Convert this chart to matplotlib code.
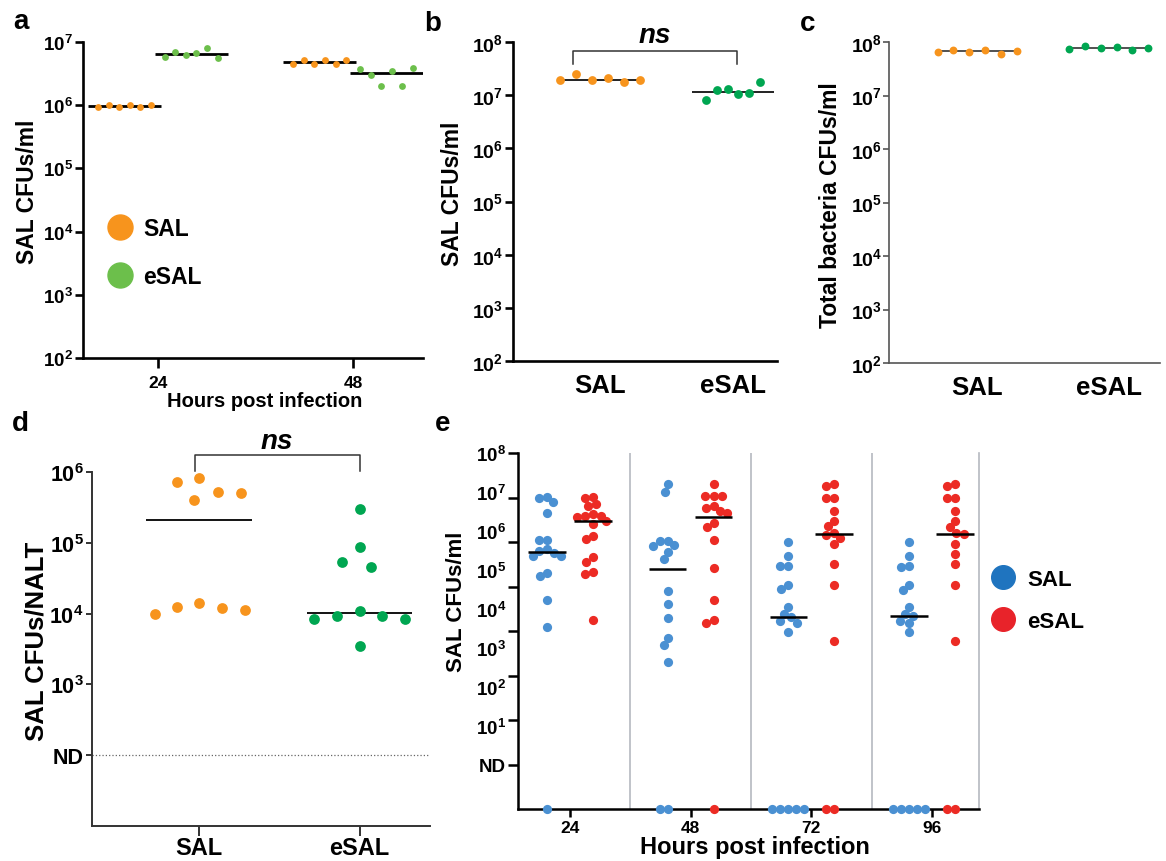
import numpy as np
import matplotlib
matplotlib.use('Agg')
import matplotlib.pyplot as plt
from matplotlib.lines import Line2D
from matplotlib.ticker import NullLocator, NullFormatter

plt.rcParams['font.family'] = ['Liberation Sans', 'DejaVu Sans']
plt.rcParams['font.weight'] = 'bold'
plt.rcParams['axes.labelweight'] = 'bold'
plt.rcParams['mathtext.fontset'] = 'custom'
plt.rcParams['mathtext.rm'] = 'Liberation Sans:bold'
plt.rcParams['mathtext.bf'] = 'Liberation Sans:bold'
plt.rcParams['mathtext.default'] = 'bf'

W, H = 1166, 862

# ---- data: CFU counts (0 = not detected) ----
groups = ['SAL', 'eSAL']

a_hours = [24, 48]
a_sal = [[0.95e6, 1.0e6, 0.95e6, 1.0e6, 0.95e6, 1.0e6],
         [4.5e6, 5.2e6, 4.5e6, 5.2e6, 4.5e6, 5.2e6]]
a_esal = [[5.8e6, 6.9e6, 6.2e6, 6.7e6, 8.0e6, 5.6e6],
          [3.7e6, 3.0e6, 2.0e6, 3.5e6, 2.0e6, 3.9e6]]

b_sal = [1.9e7, 2.55e7, 1.9e7, 2.07e7, 1.8e7, 1.9e7]
b_esal = [8.1e6, 1.24e7, 1.29e7, 1.04e7, 1.09e7, 1.8e7]

c_sal = [6.4e7, 7.1e7, 6.6e7, 7.1e7, 6.0e7, 6.7e7]
c_esal = [7.4e7, 8.5e7, 7.6e7, 8.2e7, 7.2e7, 7.6e7]

d_sal = [1.14e4, 8.3e5, 5.3e5, 1.39e4, 4.0e5, 1.19e4, 7.3e5, 5.1e5, 1.24e4, 9.9e3]
d_esal = [1.08e4, 8.5e3, 2.97e5, 8.8e4, 9.2e3, 3.45e3, 4.6e4, 5.4e4, 8.5e3, 9.4e3]

e_hours = ['24', '48', '72', '96']
e_sal = [
    [1.04e7, 9.6e6, 7.8e6, 4.6e6, 1.13e6, 1.13e6, 7.0e5, 6.4e5, 5.7e5, 4.9e5, 4.8e5, 2.0e5, 1.7e5, 5.0e4, 1.25e4, 0],
    [2.0e7, 1.35e7, 1.07e6, 1.07e6, 8.6e5, 8.3e5, 5.9e5, 4.1e5, 8.1e4, 4.0e4, 2.0e4, 7.0e3, 4.9e3, 2.0e3, 0, 0],
    [9.8e5, 4.8e5, 2.9e5, 2.9e5, 1.08e5, 8.8e4, 3.4e4, 2.4e4, 2.07e4, 1.7e4, 1.5e4, 9.6e3, 0, 0, 0, 0, 0],
    [9.8e5, 4.8e5, 2.8e5, 2.9e5, 1.1e5, 8.5e4, 3.4e4, 2.4e4, 2.2e4, 1.7e4, 1.5e4, 9.3e3, 0, 0, 0, 0, 0],
]
e_esal = [
    [1.04e7, 9.6e6, 7.1e6, 6.3e6, 4.3e6, 3.9e6, 3.9e6, 3.6e6, 2.9e6, 2.5e6, 1.39e6, 1.17e6, 4.5e5, 3.6e5, 2.1e5, 1.9e5, 1.8e4],
    [2.0e7, 1.06e7, 1.06e7, 1.06e7, 6.6e6, 5.7e6, 5.1e6, 4.5e6, 2.7e6, 2.14e6, 1.13e6, 2.6e5, 5.0e4, 1.8e4, 1.5e4, 0],
    [2.0e7, 1.78e7, 1.0e7, 1.0e7, 5.1e6, 3.0e6, 2.25e6, 1.6e6, 1.46e6, 1.2e6, 9.0e5, 3.2e5, 1.1e5, 6.0e3, 0, 0],
    [2.0e7, 1.78e7, 1.0e7, 1.0e7, 5.1e6, 3.0e6, 2.14e6, 1.57e6, 1.5e6, 9.0e5, 5.4e5, 3.2e5, 1.1e5, 6.0e3, 0, 0],
]

ORANGE = '#F7941D'
GREEN_LIGHT = '#6CBF4B'
GREEN = '#00A651'
BLUE = '#4A90D2'
RED = '#EC2B24'


def make_axes(left, top, right, bottom):
    return fig.add_axes([left / W, 1 - bottom / H, (right - left) / W, (bottom - top) / H])


def clean(ax, lw, color='black'):
    ax.spines[['top', 'right']].set_visible(False)
    ax.spines[['left', 'bottom']].set_linewidth(lw)
    ax.spines[['left', 'bottom']].set_color(color)
    ax.tick_params(width=lw, color=color, labelcolor='black')


def log_ticks(ax, lo, hi, size):
    ks = list(range(lo, hi + 1))
    ax.set_yticks([10.0 ** k for k in ks], [f'$10^{{{k}}}$' for k in ks], fontsize=size)
    ax.yaxis.set_minor_locator(NullLocator())


def swarm(values, px_decade, dist):
    # horizontal offsets (px) so dots with similar values sit side by side
    ys = np.log10(np.asarray(values, float)) * px_decade
    xs = np.zeros(len(ys))
    placed = []
    for i in np.argsort(-ys, kind='stable'):
        spans = []
        for j in placed:
            dy = ys[i] - ys[j]
            if abs(dy) < dist:
                w = np.sqrt(dist ** 2 - dy ** 2)
                spans.append((xs[j] - w, xs[j] + w))
        cands = sorted([0.0] + [e for sp in spans for e in sp], key=lambda c: (abs(c), c))
        for c in cands:
            if all(not (lo + 1e-6 < c < hi - 1e-6) for lo, hi in spans):
                xs[i] = c
                break
        placed.append(i)
    return xs


def bracket(ax, x0, x1, y_top, y_leg, y_text, size):
    ax.plot([x0, x0, x1, x1], [y_leg, y_top, y_top, y_leg], color='#333333', lw=1.1, clip_on=False)
    ax.text((x0 + x1) / 2, y_text, 'ns', style='italic', fontweight='bold', fontsize=size,
            ha='center', va='baseline', clip_on=False)


fig = plt.figure(figsize=(W / 100, H / 100), dpi=100)

# ---------------- a ----------------
ax = make_axes(83, 43, 423, 359)
ax.set_yscale('log')
ax.set_ylim(1e2, 1e7)
ax.set_xlim(14.8, 56.6)
for i, h in enumerate(a_hours):
    for vals, side, col in [(a_sal[i], -1, ORANGE), (a_esal[i], 1, GREEN_LIGHT)]:
        c = h + side * 4.1
        ax.scatter(c + np.linspace(-3.25, 3.25, len(vals)), vals, s=24, color=col,
                   linewidths=0, zorder=3, clip_on=False)
        ax.hlines(np.median(vals), c - 4.5, c + 4.5, color='black', lw=2, zorder=2)
clean(ax, 1.9)
log_ticks(ax, 2, 7, 13.5)
ax.set_xticks(a_hours, [str(h) for h in a_hours], fontsize=12.5)
ax.tick_params(axis='y', length=6, pad=1)
ax.tick_params(axis='x', length=7, pad=5)
ax.set_ylabel('SAL CFUs/ml', fontsize=16.5)
ax.yaxis.set_label_coords(-0.13, 0.53)
ax.set_xlabel('Hours post infection', fontsize=14.5)
ax.xaxis.set_label_coords(0.534, -0.105)
handles = [Line2D([], [], ls='', marker='o', ms=18, color=c) for c in (ORANGE, GREEN_LIGHT)]
ax.legend(handles, groups, loc='center left', bbox_to_anchor=(0.075, 0.335), frameon=False,
          fontsize=16.5, handlelength=1.0, handletextpad=0.5, labelspacing=1.1,
          borderpad=0, borderaxespad=0)

# ---------------- b ----------------
ax = make_axes(513, 43, 777, 362)
ax.set_yscale('log')
ax.set_ylim(1e2, 1e8)
ax.set_xlim(-0.65, 1.33)
for i, (vals, col, sp) in enumerate(zip([b_sal, b_esal], [ORANGE, GREEN], [0.3, 0.2])):
    ax.scatter(i + np.linspace(-sp, sp, len(vals)), vals, s=40, color=col,
               linewidths=0, zorder=3, clip_on=False)
    ax.hlines(np.median(vals), i - 0.31, i + 0.31, color='#222222', lw=1.4, zorder=2)
clean(ax, 1.9)
log_ticks(ax, 2, 8, 14)
ax.set_xticks([0, 1], groups, fontsize=18.5)
ax.tick_params(axis='y', length=6, pad=1)
ax.tick_params(axis='x', length=0, pad=9)
ax.set_ylabel('SAL CFUs/ml', fontsize=16.5)
ax.yaxis.set_label_coords(-0.185, 0.528)
bracket(ax, -0.2, 1.03, 6.8e7, 3.9e7, 1.0e8, 20)

# ---------------- c ----------------
ax = make_axes(889, 43, 1160, 364)
ax.set_yscale('log')
ax.set_ylim(1e2, 1e8)
ax.set_xlim(-0.67, 1.39)
for i, (vals, col) in enumerate(zip([c_sal, c_esal], [ORANGE, GREEN])):
    ax.scatter(i + np.linspace(-0.3, 0.3, len(vals)), vals, s=32, color=col,
               linewidths=0, zorder=3, clip_on=False)
    ax.hlines(np.median(vals), i - 0.3, i + 0.3, color='#333333', lw=1.2, zorder=2)
clean(ax, 1.2, '#555555')
log_ticks(ax, 2, 8, 14)
ax.set_xticks([0, 1], groups, fontsize=18.5)
ax.tick_params(axis='y', length=4, pad=1)
ax.tick_params(axis='x', length=0, pad=9)
ax.set_ylabel('Total bacteria CFUs/ml', fontsize=16.5)
ax.yaxis.set_label_coords(-0.175, 0.495)

# ---------------- d ----------------
ax = make_axes(92, 473, 430, 827)
ax.set_yscale('log')
ax.set_ylim(10, 1e6)
ax.set_xlim(-0.67, 1.44)
for i, (vals, col) in enumerate(zip([d_sal, d_esal], [ORANGE, GREEN])):
    off = swarm(vals, 70.7, 23) / 160
    ax.scatter(i + off, vals, s=60, color=col, linewidths=0, zorder=3, clip_on=False)
    ax.hlines(np.median(vals), i - 0.33, i + 0.33, color='black', lw=1.3, zorder=2)
ax.axhline(1e2, color='#666666', ls=':', lw=0.9, zorder=1)
clean(ax, 1.4, '#333333')
ax.set_yticks([1e2, 1e3, 1e4, 1e5, 1e6], ['ND', '$10^{3}$', '$10^{4}$', '$10^{5}$', '$10^{6}$'],
              fontsize=15.5)
ax.yaxis.set_minor_locator(NullLocator())
ax.set_xticks([0, 1], groups, fontsize=17)
ax.tick_params(axis='y', length=4, pad=2)
ax.tick_params(axis='x', length=7, pad=0.5)
ax.set_ylabel('SAL CFUs/NALT', fontsize=18.5)
ax.yaxis.set_label_coords(-0.13, 0.524)
bracket(ax, -0.03, 1.0, 1.74e6, 1.03e6, 2.2e6, 20)

# ---------------- e ----------------
ax = make_axes(518, 454, 979, 810)
ax.set_yscale('log')
ax.set_ylim(1, 1e8)
ax.set_xlim(-0.43, 3.39)
for i in range(len(e_hours)):
    for vals, side, col in [(e_sal[i], -1, BLUE), (e_esal[i], 1, RED)]:
        v = np.asarray(vals, float)
        shown = np.where(v > 0, v, 1.0)  # not detected -> drawn on the axis
        c = i + side * 0.19
        off = swarm(shown, 44.5, 8) / 120
        ax.scatter(c + off, shown, s=44, color=col, linewidths=0, zorder=3, clip_on=False)
        ax.hlines(np.median(v), c - 0.155, c + 0.155, color='black', lw=1.8, zorder=4)
for s in (0.5, 1.5, 2.5):
    ax.axvline(s, color='#B5B9C0', lw=1.2, zorder=1)
clean(ax, 1.8)
ax.spines['right'].set_visible(True)
ax.spines['right'].set_color('#B5B9C0')
ax.spines['right'].set_linewidth(1.2)
ax.yaxis.remove_overlapping_locs = False
ax.set_yticks([10.0 ** k for k in range(1, 9)])
ax.yaxis.set_major_formatter(NullFormatter())
e_labels = [f'$10^{{{k}}}$' for k in range(8, 0, -1)] + ['ND']
ax.set_yticks(np.logspace(8, 1, len(e_labels)), e_labels, minor=True, fontsize=13.5)
ax.tick_params(axis='y', which='major', length=7, width=1.8)
ax.tick_params(axis='y', which='minor', length=0, pad=8.5)
ax.set_xticks(range(len(e_hours)), e_hours, fontsize=12.5)
ax.tick_params(axis='x', length=6, pad=2)
ax.set_ylabel('SAL CFUs/ml', fontsize=16)
ax.yaxis.set_label_coords(-0.11, 0.585)
ax.set_xlabel('Hours post infection', fontsize=17)
ax.xaxis.set_label_coords(0.514, -0.072)
handles = [Line2D([], [], ls='', marker='o', ms=17, color=c) for c in ('#1F74BF', '#E8232A')]
ax.legend(handles, groups, loc='center left', bbox_to_anchor=(1.028, 0.586), frameon=False,
          fontsize=16, handlelength=1.0, handletextpad=0.6, labelspacing=0.95,
          borderpad=0, borderaxespad=0)

# panel letters
for letter, x, y in [('a', 21, 22), ('b', 433, 24), ('c', 808, 24), ('d', 20, 424), ('e', 443, 424)]:
    fig.text(x / W, 1 - y / H, letter, fontsize=20, fontweight='bold', ha='center', va='center')

fig.savefig('out.png', dpi=100)
